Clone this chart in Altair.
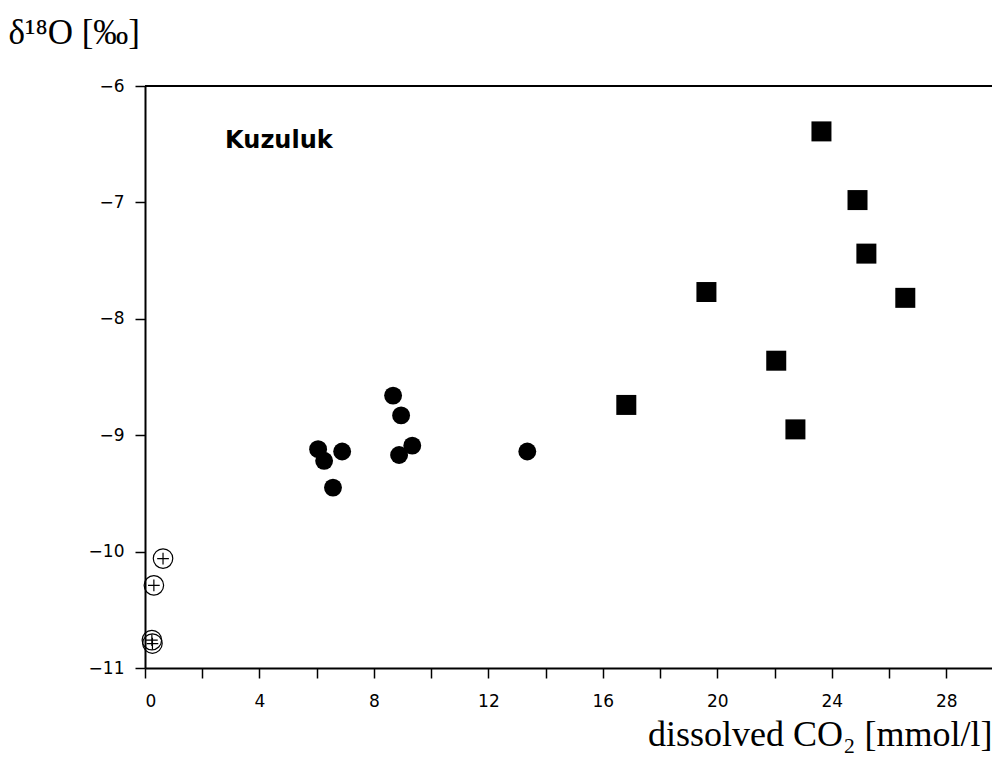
import altair as alt
import pandas as pd

# Filled squares (high dissolved CO2)
sq_co2 = [23.64, 24.90, 25.21, 19.62, 26.57, 22.06, 16.82, 22.73]
sq_d18o = [-6.39, -6.98, -7.44, -7.77, -7.82, -8.36, -8.74, -8.95]

# Filled circles (intermediate)
ci_co2 = [8.67, 8.95, 6.05, 6.89, 6.26, 6.57, 9.34, 8.88, 13.36]
ci_d18o = [-8.66, -8.83, -9.12, -9.14, -9.22, -9.45, -9.09, -9.17, -9.14]

# Open circles with plus (low CO2)
op_co2 = [0.63, 0.31, 0.24, 0.26]
op_d18o = [-10.06, -10.29, -10.76, -10.79]

x_ticks = list(range(0, 29, 2))
y_ticks = [-11, -10, -9, -8, -7, -6]

label_text = ["Kuzuluk"]
label_x = [2.8]
label_y = [-6.53]

sq = pd.DataFrame({"co2": sq_co2, "d18o": sq_d18o})
ci = pd.DataFrame({"co2": ci_co2, "d18o": ci_d18o})
op = pd.DataFrame({"co2": op_co2, "d18o": op_d18o})
lab = pd.DataFrame({"t": label_text, "x": label_x, "y": label_y})

W, H = 847, 582

xscale = alt.Scale(domain=[0, 29.6], nice=False, zero=False)
yscale = alt.Scale(domain=[-11, -6], nice=False, zero=False)

xax = alt.Axis(
    values=x_ticks,
    labelExpr="datum.value % 4 == 0 ? datum.label : ''",
    format="d",
    grid=False,
    tickSize=10,
    labelPadding=15,
    labelFont="DejaVu Sans",
    labelFontSize=17,
    labelColor="black",
    title="dissolved CO₂ [mmol/l]",
    titleX=W,
    titleY=77,
    titleAlign="right",
    titleBaseline="alphabetic",
    titleFont="Liberation Serif",
    titleFontSize=36,
    titleFontWeight="normal",
    titleColor="black",
)
yax = alt.Axis(
    values=y_ticks,
    format="d",
    grid=False,
    tickSize=10,
    labelPadding=11,
    labelFont="DejaVu Sans",
    labelFontSize=17,
    labelColor="black",
    title="δ¹⁸O [‰]",
    titleAngle=0,
    titleX=-137,
    titleY=-43,
    titleAlign="left",
    titleBaseline="alphabetic",
    titleFont="Liberation Serif",
    titleFontSize=35,
    titleFontWeight="normal",
    titleColor="black",
)

base_x = alt.X("co2:Q", scale=xscale, axis=xax)
base_y = alt.Y("d18o:Q", scale=yscale, axis=yax)

squares = alt.Chart(sq).mark_square(size=400, color="black", opacity=1).encode(x=base_x, y=base_y)
circles = alt.Chart(ci).mark_circle(size=320, color="black", opacity=1).encode(x="co2:Q", y="d18o:Q")
plus_shape = "M1,0A1,1,0,1,1,-1,0A1,1,0,1,1,1,0M-0.6,0L0.6,0M0,-0.6L0,0.6"
opens = alt.Chart(op).mark_point(
    shape=plus_shape, size=380, filled=False, stroke="black", strokeWidth=1.2, opacity=1
).encode(x="co2:Q", y="d18o:Q")

top_line = alt.Chart(pd.DataFrame({"v": [-6]})).mark_rule(color="black", strokeWidth=2).encode(y="v:Q")

label = alt.Chart(lab).mark_text(
    font="DejaVu Sans", fontWeight="bold", fontSize=24, align="left", baseline="alphabetic", color="black"
).encode(x="x:Q", y="y:Q", text="t:N")

chart = alt.layer(squares, circles, opens, top_line, label).properties(
    width=W,
    height=H,
    autosize=alt.AutoSizeParams(type="none"),
    padding={"left": 137, "top": 78, "right": 0, "bottom": 85},
    background="white",
).configure_view(stroke=None).configure_axis(
    domainColor="black",
    domainWidth=2,
    tickColor="black",
    tickWidth=1.5,
)

chart.save("out.html", embed_options={"renderer": "svg", "actions": False})
